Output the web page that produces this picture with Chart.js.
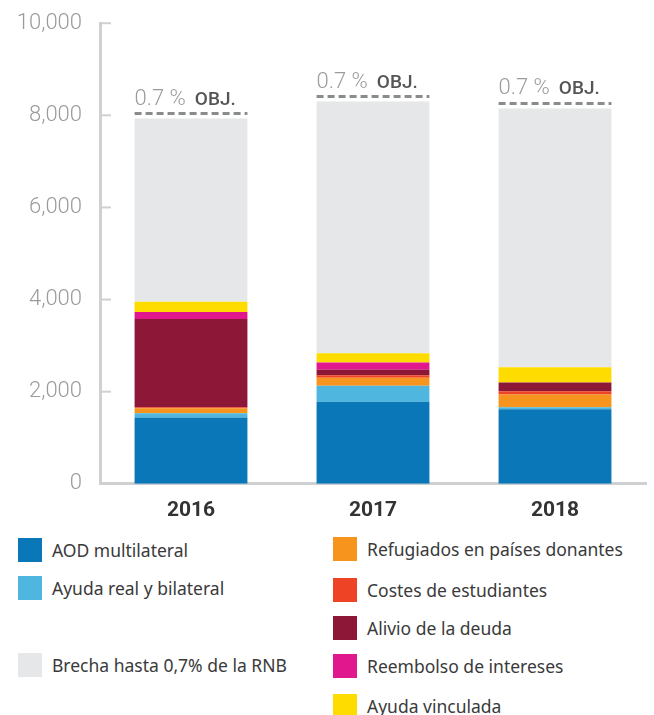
<!DOCTYPE html>
<html>
<head>
<meta charset="utf-8">
<script src="https://cdn.jsdelivr.net/npm/chart.js@4"></script>
<style>
  html, body { margin: 0; padding: 0; background: #fff; }
  #wrap { position: relative; width: 654px; height: 715px; overflow: hidden; }
  #box { position: absolute; left: 0; top: 0; width: 654px; height: 535px; }
  .leg { position: absolute; font: 400 17.5px "Noto Sans", sans-serif; color: #3a3a3a; white-space: nowrap; }
  .leg i { position: absolute; left: 0; top: -12px; width: 24px; height: 24px; }
  .leg span { position: absolute; left: 34px; top: -12px; line-height: 24px; }
</style>
</head>
<body>
<div id="wrap">
  <div id="box"><canvas id="c"></canvas></div>
  <div id="legend"></div>
</div>
<script>
const years = ['2016', '2017', '2018'];

// valores en millones (apilados de abajo arriba)
const aodMultilateral  = [1440, 1780, 1620];
const ayudaReal        = [90, 350, 40];
const refugiados       = [110, 175, 280];
const costesEstudiantes = [20, 50, 70];
const alivioDeuda      = [1920, 120, 190];
const reembolso        = [150, 160, 0];
const ayudaVinculada   = [220, 200, 330];
const brecha           = [3980, 5465, 5620];

const yTicks = [0, 2000, 4000, 6000, 8000, 10000];

const series = [
  { label: 'AOD multilateral',              data: aodMultilateral,   color: '#0a77b8' },
  { label: 'Ayuda real y bilateral',        data: ayudaReal,         color: '#4fb7df' },
  { label: 'Refugiados en países donantes', data: refugiados,        color: '#f7941e' },
  { label: 'Costes de estudiantes',         data: costesEstudiantes, color: '#ee4324' },
  { label: 'Alivio de la deuda',            data: alivioDeuda,       color: '#8c1737' },
  { label: 'Reembolso de intereses',        data: reembolso,         color: '#e0178d' },
  { label: 'Ayuda vinculada',               data: ayudaVinculada,    color: '#ffdc00' },
  { label: 'Brecha hasta 0,7% de la RNB',   data: brecha,            color: '#e6e7e8' },
];

// legend placement: [left, centerY]
const legendPos = {
  'AOD multilateral': [18, 550],
  'Ayuda real y bilateral': [18, 588],
  'Brecha hasta 0,7% de la RNB': [18, 665],
  'Refugiados en países donantes': [333, 549],
  'Costes de estudiantes': [333, 590],
  'Alivio de la deuda': [333, 628],
  'Reembolso de intereses': [333, 666],
  'Ayuda vinculada': [333, 706],
};
document.getElementById('legend').innerHTML = series.map(s => {
  const p = legendPos[s.label];
  return `<div class="leg" style="left:${p[0]}px;top:${p[1]}px"><i style="background:${s.color}"></i><span>${s.label}</span></div>`;
}).join('');

const axisGray = '#cfd0d1';

const innerTicks = {
  id: 'innerTicks',
  afterDraw(chart) {
    const ctx = chart.ctx, y = chart.scales.y, left = chart.chartArea.left;
    ctx.save();
    ctx.strokeStyle = axisGray;
    ctx.lineWidth = 2;
    yTicks.slice(1).forEach(v => {
      const py = y.getPixelForValue(v);
      ctx.beginPath(); ctx.moveTo(left, py); ctx.lineTo(left + 11, py); ctx.stroke();
    });
    ctx.restore();
  }
};

const objLines = {
  id: 'objLines',
  afterDatasetsDraw(chart) {
    const ctx = chart.ctx;
    const meta = chart.getDatasetMeta(series.length - 1);
    ctx.save();
    meta.data.forEach(bar => {
      const l = bar.x - bar.width / 2, r = bar.x + bar.width / 2;
      const ly = bar.y - 5;
      ctx.strokeStyle = '#8a8b8c';
      ctx.lineWidth = 3;
      ctx.setLineDash([7, 4]);
      ctx.beginPath(); ctx.moveTo(l, ly); ctx.lineTo(r, ly); ctx.stroke();
      ctx.setLineDash([]);
      ctx.textBaseline = 'alphabetic';
      ctx.textAlign = 'left';
      ctx.font = '300 22px Roboto, sans-serif';
      ctx.fillStyle = '#9a9b9c';
      ctx.fillText('0.7 %', l, ly - 9);
      const w = ctx.measureText('0.7 %').width;
      ctx.font = '500 19px Roboto, sans-serif';
      ctx.fillStyle = '#555';
      ctx.fillText('OBJ.', l + w + 9, ly - 9);
    });
    ctx.restore();
  }
};

new Chart(document.getElementById('c'), {
  type: 'bar',
  data: {
    labels: years,
    datasets: series.map(s => ({
      label: s.label,
      data: s.data,
      backgroundColor: s.color,
      borderWidth: 0,
      barPercentage: 0.62,
      categoryPercentage: 1,
    }))
  },
  options: {
    responsive: true,
    maintainAspectRatio: false,
    animation: false,
    layout: { padding: { top: 19, right: 8, left: 0, bottom: 6 } },
    plugins: { legend: { display: false }, tooltip: { enabled: false } },
    scales: {
      x: {
        stacked: true,
        grid: { display: false },
        border: { color: axisGray, width: 3 },
        ticks: { color: '#333', padding: 6, font: { family: 'Roboto, sans-serif', size: 21, weight: '700' } }
      },
      y: {
        stacked: true,
        min: 0, max: 10000,
        afterFit(scale) { scale.width = 100; },
        afterBuildTicks(scale) { scale.ticks = yTicks.map(v => ({ value: v })); },
        grid: { display: false },
        border: { color: axisGray, width: 3 },
        ticks: {
          color: '#9a9b9c', padding: 10,
          font: { family: 'Roboto, sans-serif', size: 22, weight: '300' },
          callback: v => v.toLocaleString('en-US')
        }
      }
    }
  },
  plugins: [innerTicks, objLines]
});
</script>
</body>
</html>
